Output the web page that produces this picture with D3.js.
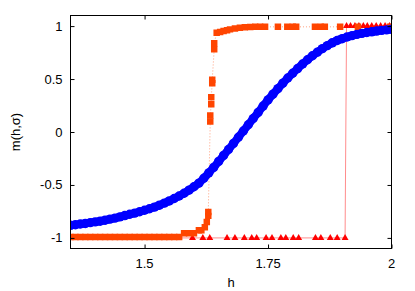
<!DOCTYPE html>
<html>
<head>
<meta charset="utf-8">
<script src="https://cdn.jsdelivr.net/npm/d3@7"></script>
<style>
  body { margin: 0; background: #fff; }
  svg { display: block; }
  text { font-family: "Liberation Sans", Arial, Helvetica, sans-serif; }
</style>
</head>
<body>
<div id="chart"></div>
<script>
/* DATA ************************************************************/

// blue circles (smooth curve)
const blueH = [1.35, 1.36, 1.37, 1.38, 1.39, 1.40, 1.41, 1.42, 1.43, 1.44,
               1.45, 1.46, 1.47, 1.48, 1.49, 1.50, 1.51, 1.52, 1.53, 1.54,
               1.55, 1.56, 1.57, 1.58, 1.59, 1.60, 1.61, 1.62, 1.63, 1.64,
               1.65, 1.66, 1.67, 1.68, 1.69, 1.70, 1.71, 1.72, 1.73, 1.74,
               1.75, 1.76, 1.77, 1.78, 1.79, 1.80, 1.81, 1.82, 1.83, 1.84,
               1.85, 1.86, 1.87, 1.88, 1.89, 1.90, 1.91, 1.92, 1.93, 1.94,
               1.95, 1.96, 1.97, 1.98, 1.99, 2.00];
const blueM = [-0.881, -0.876, -0.869, -0.864, -0.856, -0.849, -0.842, -0.833, -0.823, -0.813,
               -0.801, -0.789, -0.777, -0.766, -0.753, -0.739, -0.725, -0.709, -0.691, -0.672,
               -0.651, -0.628, -0.604, -0.578, -0.549, -0.517, -0.483, -0.437, -0.386, -0.334,
               -0.278, -0.221, -0.165, -0.108, -0.050, 0.009, 0.068, 0.127, 0.185, 0.245,
               0.303, 0.357, 0.409, 0.461, 0.510, 0.555, 0.599, 0.642, 0.682, 0.720,
               0.754, 0.787, 0.816, 0.842, 0.864, 0.881, 0.897, 0.910, 0.922, 0.931,
               0.939, 0.946, 0.953, 0.960, 0.964, 0.969];

// orange squares (sharp jump near 1.63)
const orangeH = [1.35, 1.36, 1.37, 1.38, 1.39, 1.40, 1.41, 1.42, 1.43, 1.44,
                 1.45, 1.46, 1.47, 1.48, 1.49, 1.50, 1.51, 1.52, 1.53, 1.54,
                 1.55, 1.56, 1.57, 1.58, 1.59, 1.60, 1.61, 1.615, 1.622, 1.626,
                 1.629, 1.629, 1.633, 1.633, 1.635, 1.635, 1.637, 1.637, 1.641, 1.641,
                 1.646, 1.653, 1.660, 1.667, 1.673, 1.683, 1.693, 1.703, 1.714, 1.724,
                 1.734, 1.744, 1.770, 1.789, 1.800, 1.807, 1.845, 1.857, 1.865, 1.896,
                 1.932, 1.997];
const orangeM = [-0.991, -0.991, -0.991, -0.991, -0.991, -0.991, -0.991, -0.991, -0.991, -0.991,
                 -0.991, -0.991, -0.991, -0.991, -0.991, -0.991, -0.991, -0.991, -0.991, -0.991,
                 -0.991, -0.991, -0.991, -0.955, -0.955, -0.955, -0.927, -0.927, -0.900, -0.850,
                 -0.792, -0.755, 0.100, 0.156, 0.263, 0.329, 0.461, 0.494, 0.781, 0.837,
                 0.938, 0.945, 0.953, 0.961, 0.969, 0.978, 0.985, 0.990, 0.992, 0.993,
                 0.993, 0.993, 0.993, 0.993, 0.993, 0.993, 0.993, 0.993, 0.993, 0.993,
                 0.993, 0.993];

// red triangles (jump near 1.91)
const redH = [1.377, 1.427, 1.542, 1.597, 1.618, 1.632, 1.667, 1.683, 1.702, 1.717,
              1.727, 1.746, 1.758, 1.776, 1.786, 1.801, 1.812, 1.846, 1.857, 1.876,
              1.890, 1.906,
              1.909, 1.917, 1.926, 1.934, 1.943, 1.951, 1.960, 1.969, 1.978, 1.987,
              1.996];
const redM = [-1, -1, -1, -1, -1, -1, -1, -1, -1, -1,
              -1, -1, -1, -1, -1, -1, -1, -1, -1, -1,
              -1, -1,
              1, 1, 1, 1, 1, 1, 1, 1, 1, 1,
              1];

const xTicks = [1.5, 1.75, 2];
const xTickLabels = ["1.5", "1.75", "2"];
const yTicks = [-1, -0.5, 0, 0.5, 1];
const yTickLabels = ["-1", "-0.5", "0", "0.5", "1"];

/* SETTINGS ********************************************************/

const width = 415, height = 291;
const margin = {left: 70.5, top: 15.5};
const innerWidth = 321, innerHeight = 233;
const fontSize = 13;

const blue = "#0000ff", orange = "#ff4500", red = "#ff0000";

/* SVG *************************************************************/

const svg = d3.select("#chart").append("svg")
    .attr("width", width)
    .attr("height", height)
    .attr("font-family", '"Liberation Sans", Arial, sans-serif');

const g = svg.append("g")
    .attr("transform", `translate(${margin.left},${margin.top})`);

const x = d3.scaleLinear().domain([1.35, 2]).range([0, innerWidth]);
const y = d3.scaleLinear().domain([-1.1, 1.1]).range([innerHeight, 0]);

const zip = (hs, ms) => hs.map((h, i) => ({h: h, m: ms[i]}));
const blueData = zip(blueH, blueM);
const orangeData = zip(orangeH, orangeM);
const redData = zip(redH, redM);

g.append("clipPath").attr("id", "clip")
  .append("rect").attr("width", innerWidth).attr("height", innerHeight);

const plot = g.append("g").attr("clip-path", "url(#clip)");

const line = d3.line().x(d => x(d.h)).y(d => y(d.m));

// red: thin line + triangles
plot.append("path")
    .datum(redData)
    .attr("d", line)
    .attr("fill", "none")
    .attr("stroke", red)
    .attr("stroke-opacity", 0.45)
    .attr("stroke-width", 1);

plot.append("g").selectAll("path")
    .data(redData)
    .enter().append("path")
    .attr("transform", d => `translate(${x(d.h)},${y(d.m)})`)
    .attr("d", d3.symbol(d3.symbolTriangle, 21))
    .attr("fill", red);

// orange: dotted line + squares
plot.append("path")
    .datum(orangeData)
    .attr("d", line)
    .attr("fill", "none")
    .attr("stroke", orange)
    .attr("stroke-opacity", 0.5)
    .attr("stroke-width", 1)
    .attr("stroke-dasharray", "1,2");

plot.append("g").selectAll("path")
    .data(orangeData)
    .enter().append("path")
    .attr("transform", d => `translate(${x(d.h)},${y(d.m)})`)
    .attr("d", d3.symbol(d3.symbolSquare, 42))
    .attr("fill", orange);

// blue: dense circles forming a thick band
plot.append("path")
    .datum(blueData)
    .attr("d", line.curve(d3.curveMonotoneX))
    .attr("fill", "none")
    .attr("stroke", blue)
    .attr("stroke-width", 8)
    .attr("stroke-linejoin", "round");

plot.append("g").selectAll("circle")
    .data(blueData)
    .enter().append("circle")
    .attr("cx", d => x(d.h))
    .attr("cy", d => y(d.m))
    .attr("r", 4.7)
    .attr("fill", blue);

/* AXES ************************************************************/

// inward ticks on all four sides, labels drawn separately
const tickLen = -4;
const ticksOnly = function(sel) {
    sel.select(".domain").remove();
    sel.selectAll("text").remove();
    sel.selectAll("line").attr("stroke", "#000");
};

g.append("g")
    .attr("transform", `translate(0,${innerHeight})`)
    .call(d3.axisBottom(x).tickValues(xTicks).tickSizeInner(tickLen).tickSizeOuter(0))
    .call(ticksOnly);
g.append("g")
    .call(d3.axisTop(x).tickValues(xTicks).tickSizeInner(tickLen).tickSizeOuter(0))
    .call(ticksOnly);
g.append("g")
    .call(d3.axisLeft(y).tickValues(yTicks).tickSizeInner(tickLen).tickSizeOuter(0))
    .call(ticksOnly);
g.append("g")
    .attr("transform", `translate(${innerWidth},0)`)
    .call(d3.axisRight(y).tickValues(yTicks).tickSizeInner(tickLen).tickSizeOuter(0))
    .call(ticksOnly);

// tick labels
g.append("g").selectAll("text")
    .data(xTicks)
    .enter().append("text")
    .attr("x", d => x(d))
    .attr("y", innerHeight + 19)
    .attr("text-anchor", "middle")
    .attr("font-size", fontSize)
    .text((d, i) => xTickLabels[i]);

g.append("g").selectAll("text")
    .data(yTicks)
    .enter().append("text")
    .attr("x", -8)
    .attr("y", d => y(d) + 4.5)
    .attr("text-anchor", "end")
    .attr("font-size", fontSize)
    .text((d, i) => yTickLabels[i]);

// border
g.append("rect")
    .attr("width", innerWidth)
    .attr("height", innerHeight)
    .attr("fill", "none")
    .attr("stroke", "#000")
    .attr("stroke-width", 1);

// axis titles
svg.append("text")
    .attr("x", margin.left + innerWidth / 2)
    .attr("y", 287)
    .attr("text-anchor", "middle")
    .attr("font-size", fontSize)
    .text("h");

svg.append("text")
    .attr("transform", `translate(20,${margin.top + innerHeight / 2}) rotate(-90)`)
    .attr("text-anchor", "middle")
    .attr("font-size", fontSize)
    .text("m(h,σ)");
</script>
</body>
</html>
